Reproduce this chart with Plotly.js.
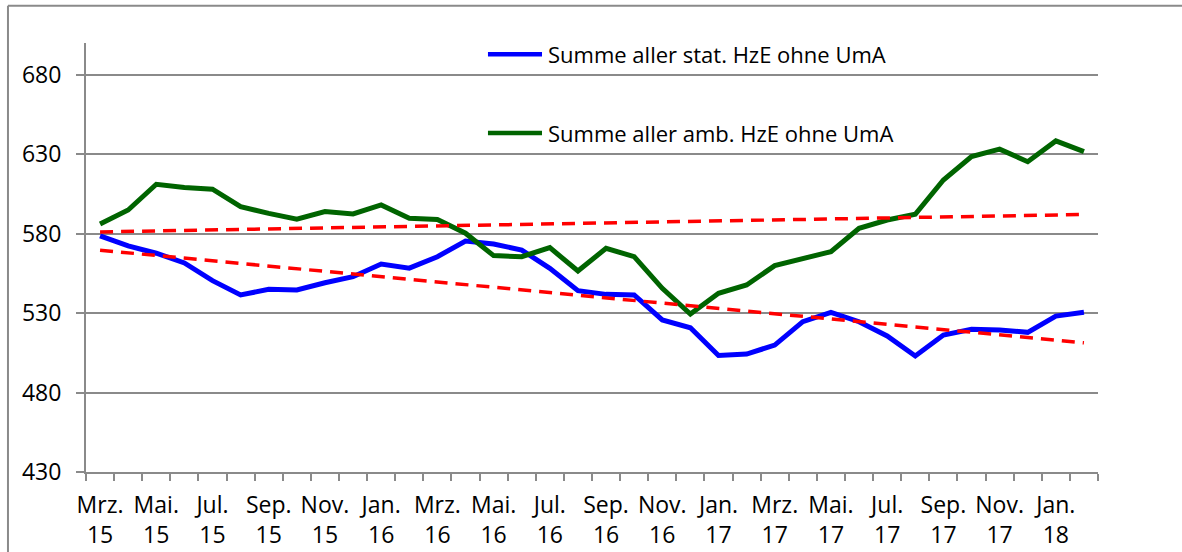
<!DOCTYPE html>
<html>
<head>
<meta charset="utf-8">
<script src="https://cdn.plot.ly/plotly-3.0.1.min.js"></script>
<style>
  html, body { margin: 0; padding: 0; background: #fff; }
  #chart { width: 1182px; height: 552px; }
</style>
</head>
<body>
<div id="chart"></div>
<script>
// Months (Mrz. 2015 .. Feb. 2018)
const months = ["Mrz. 15","Apr. 15","Mai. 15","Jun. 15","Jul. 15","Aug. 15","Sep. 15","Okt. 15","Nov. 15","Dez. 15",
  "Jan. 16","Feb. 16","Mrz. 16","Apr. 16","Mai. 16","Jun. 16","Jul. 16","Aug. 16","Sep. 16","Okt. 16","Nov. 16","Dez. 16",
  "Jan. 17","Feb. 17","Mrz. 17","Apr. 17","Mai. 17","Jun. 17","Jul. 17","Aug. 17","Sep. 17","Okt. 17","Nov. 17","Dez. 17",
  "Jan. 18","Feb. 18"];

// Tick labels (every second month shown)
const tickLabels = ["Mrz.<br>15","","Mai.<br>15","","Jul.<br>15","","Sep.<br>15","","Nov.<br>15","",
  "Jan.<br>16","","Mrz.<br>16","","Mai.<br>16","","Jul.<br>16","","Sep.<br>16","","Nov.<br>16","",
  "Jan.<br>17","","Mrz.<br>17","","Mai.<br>17","","Jul.<br>17","","Sep.<br>17","","Nov.<br>17","",
  "Jan.<br>18",""];

const seriesNames = ["Summe aller stat. HzE ohne UmA", "Summe aller amb. HzE ohne UmA"];

const statValues = [578.6,572.3,567.7,561.6,550.4,541.4,545.0,544.6,549.1,552.9,
  560.9,558.3,565.5,575.4,573.5,569.7,558.2,544.1,541.8,541.4,525.7,520.8,
  503.3,504.2,509.9,524.6,530.5,524.6,515.6,503.0,516.2,519.8,519.4,517.9,
  528.1,530.5];

const ambValues = [586.1,594.9,611.1,609.0,608.0,597.0,592.8,589.1,593.9,592.4,
  598.1,589.7,588.9,580.3,566.2,565.5,571.2,556.5,570.8,565.5,545.6,529.4,
  542.5,547.7,559.9,564.5,568.7,583.4,588.6,592.2,613.8,628.5,633.2,625.3,
  638.4,631.6];

// Linear trend lines (start / end values)
const trendX = [months[0], months[months.length - 1]];
const statTrend = [569.6, 511.3];
const ambTrend = [581.1, 592.1];

const yTicks = [430, 480, 530, 580, 630, 680];

const FONT = "Open Sans, Liberation Sans, sans-serif";
const GRID = "#8a8a8a";

const traces = [
  { x: months, y: statValues, type: "scatter", mode: "lines", name: seriesNames[0],
    line: { color: "#0000ff", width: 5 } },
  { x: months, y: ambValues, type: "scatter", mode: "lines", name: seriesNames[1],
    line: { color: "#006400", width: 5 } },
  { x: trendX, y: statTrend, type: "scatter", mode: "lines", name: "Trend stat.",
    line: { color: "#ff0000", width: 3.5, dash: "13px,8px" } },
  { x: trendX, y: ambTrend, type: "scatter", mode: "lines", name: "Trend amb.",
    line: { color: "#ff0000", width: 3.5, dash: "13px,8px" } }
];

// Legend placement (paper coords)
const legY = [0.974, 0.79];
const shapes = [
  // outer chart frame (left and top edges)
  { type: "line", xref: "paper", yref: "paper", x0: -0.0771, x1: -0.0771, y0: -0.3, y1: 1.087,
    line: { color: GRID, width: 2 } },
  { type: "line", xref: "paper", yref: "paper", x0: -0.0771, x1: 1.2, y0: 1.087, y1: 1.087,
    line: { color: GRID, width: 2 } }
];
const annotations = [];
[0, 1].forEach(i => {
  shapes.push({ type: "line", xref: "paper", yref: "paper", x0: 0.3972, x1: 0.4506, y0: legY[i], y1: legY[i],
    line: { color: traces[i].line.color, width: 4.5 } });
  annotations.push({ xref: "paper", yref: "paper", x: 0.4545, y: legY[i], xanchor: "left", yanchor: "middle",
    text: seriesNames[i], showarrow: false, font: { family: FONT, size: 22, color: "#000" } });
});

const layout = {
  width: 1182, height: 552,
  margin: { l: 86, r: 84, t: 43, b: 80 },
  paper_bgcolor: "#ffffff", plot_bgcolor: "#ffffff",
  showlegend: false,
  font: { family: FONT, size: 23, color: "#000" },
  xaxis: {
    type: "category",
    range: [-0.5, months.length - 0.5],
    tickmode: "array", tickvals: months, ticktext: tickLabels,
    tickson: "boundaries", ticks: "outside", ticklen: 7, tickwidth: 2, tickcolor: GRID,
    showline: true, linecolor: GRID, linewidth: 2,
    showgrid: false, zeroline: false, tickangle: 0,
    ticklabelstandoff: 11,
    tickfont: { family: FONT, size: 23, color: "#000" }
  },
  yaxis: {
    range: [430, 700], tickmode: "array", tickvals: yTicks,
    ticks: "outside", ticklen: 8, tickwidth: 2, tickcolor: GRID,
    showline: true, linecolor: GRID, linewidth: 2,
    showgrid: true, gridcolor: GRID, gridwidth: 2, zeroline: false,
    ticklabelstandoff: 10,
    tickfont: { family: FONT, size: 23, color: "#000" }
  },
  shapes: shapes,
  annotations: annotations
};

Plotly.newPlot("chart", traces, layout, { displayModeBar: false, staticPlot: true });
</script>
</body>
</html>
